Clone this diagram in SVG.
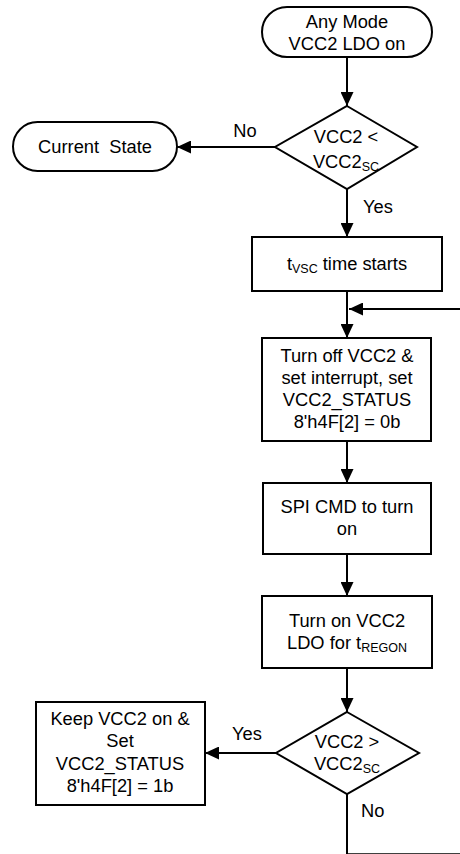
<svg xmlns="http://www.w3.org/2000/svg" width="460" height="854" viewBox="0 0 460 854">
<defs>
<style>
.shape{fill:#fff;stroke:#000;stroke-width:2}
.line{fill:none;stroke:#000;stroke-width:2}
text{font-family:"Liberation Sans",Arial,sans-serif;font-size:18.3px;fill:#000}
.c{text-anchor:middle}
.sub{font-size:12.5px}
</style>
<marker id="arr" markerUnits="userSpaceOnUse" markerWidth="14" markerHeight="13" refX="14" refY="6.5" orient="auto">
<path d="M0,0 L14,6.5 L0,13 z" fill="#000"/>
</marker>
</defs>
<rect width="460" height="854" fill="#fff"/>
<g id="connectors">
<path class="line" d="M347,57 V106" marker-end="url(#arr)"/>
<path class="line" d="M275,147 H177" marker-end="url(#arr)"/>
<path class="line" d="M347,189 V237" marker-end="url(#arr)"/>
<path class="line" d="M347,291 V338" marker-end="url(#arr)"/>
<path class="line" d="M460,309 H349" marker-end="url(#arr)"/>
<path class="line" d="M347,441 V483" marker-end="url(#arr)"/>
<path class="line" d="M347,554 V596" marker-end="url(#arr)"/>
<path class="line" d="M347,668 V712" marker-end="url(#arr)"/>
<path class="line" d="M276,753 H205" marker-end="url(#arr)"/>
<path class="line" d="M347,794 V854.2 H460"/>
<text x="245" y="137" class="c">No</text>
<text x="363" y="213">Yes</text>
<text x="247" y="740" class="c">Yes</text>
<text x="361" y="817">No</text>
</g>
<g id="start">
<rect class="shape" x="262" y="7" width="170" height="50" rx="25"/>
<text x="347" y="28" class="c">Any Mode</text>
<text x="347" y="50" class="c">VCC2 LDO on</text>
</g>
<g id="current-state">
<rect class="shape" x="13" y="122" width="164" height="49" rx="24.5"/>
<text x="95" y="153" class="c" xml:space="preserve">Current  State</text>
</g>
<g id="decision1">
<polygon class="shape" points="347,106 417,147 347,189 275,147"/>
<text x="346" y="143" class="c">VCC2 &lt;</text>
<text x="346" y="168" class="c">VCC2<tspan class="sub" dy="3">SC</tspan></text>
</g>
<g id="tvsc">
<rect class="shape" x="252" y="237" width="190" height="54"/>
<text x="347" y="270" class="c">t<tspan class="sub" dy="3">VSC</tspan><tspan dy="-3"> time starts</tspan></text>
</g>
<g id="turn-off">
<rect class="shape" x="262" y="338" width="169" height="103"/>
<text x="347" y="362" class="c">Turn off VCC2 &amp;</text>
<text x="347" y="384" class="c">set interrupt, set</text>
<text x="347" y="406" class="c">VCC2_STATUS</text>
<text x="347" y="428" class="c">8'h4F[2] = 0b</text>
</g>
<g id="spi-cmd">
<rect class="shape" x="263" y="483" width="168" height="71"/>
<text x="347" y="513" class="c">SPI CMD to turn</text>
<text x="347" y="535" class="c">on</text>
</g>
<g id="turn-on">
<rect class="shape" x="262" y="596" width="170" height="72"/>
<text x="347" y="627" class="c">Turn on VCC2</text>
<text x="347" y="649" class="c">LDO for t<tspan class="sub" dy="3">REGON</tspan></text>
</g>
<g id="decision2">
<polygon class="shape" points="347,712 419,753 347,794 276,753"/>
<text x="347" y="748" class="c">VCC2 &gt;</text>
<text x="347" y="770" class="c">VCC2<tspan class="sub" dy="3">SC</tspan></text>
</g>
<g id="keep-on">
<rect class="shape" x="36" y="702" width="169" height="103"/>
<text x="120" y="725" class="c">Keep VCC2 on &amp;</text>
<text x="120" y="747" class="c">Set</text>
<text x="120" y="770" class="c">VCC2_STATUS</text>
<text x="120" y="792" class="c">8'h4F[2] = 1b</text>
</g>
</svg>
